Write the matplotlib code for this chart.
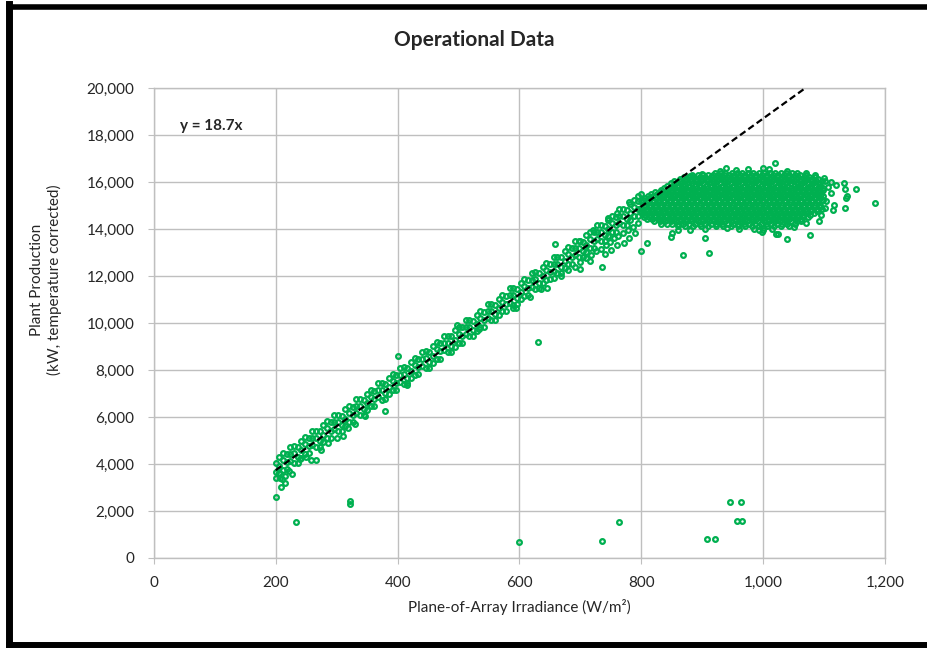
import matplotlib.pyplot as plt
from matplotlib.lines import Line2D
from matplotlib.ticker import FuncFormatter

plt.rcParams['font.family'] = ['Lato', 'DejaVu Sans']

# ---- data (irradiance W/m2, production kW) ----
slope = 18.7
line_x = [200, 1069.5]

# points along the linear part (200-800 W/m2)
band = [(200, 4040), (200, 3640), (206, 3902), (206, 4302), (212, 3764), (212, 4164), (218, 4427), (218, 4077),
        (224, 4139), (224, 4439), (230, 4451), (230, 4051), (236, 4713), (236, 4313), (242, 4575), (242, 4975),
        (248, 4438), (248, 4838), (254, 5100), (254, 4750), (260, 4812), (260, 5112), (266, 5124), (266, 4724),
        (272, 5386), (272, 4986), (278, 5249), (278, 5649), (284, 5111), (284, 5511), (290, 5773), (290, 5423),
        (296, 5485), (296, 5785), (302, 5797), (302, 5397), (308, 6060), (308, 5660), (314, 5922), (314, 6322),
        (320, 5784), (320, 6184), (326, 6446), (326, 6096), (332, 6158), (332, 6458), (338, 6471), (338, 6071),
        (344, 6733), (344, 6333), (350, 6595), (350, 6995), (356, 6457), (356, 6857), (362, 7119), (362, 6769),
        (368, 6832), (368, 7132), (374, 7144), (374, 6744), (380, 7406), (380, 7006), (386, 7268), (386, 7668),
        (392, 7130), (392, 7530), (398, 7793), (398, 7443), (404, 7505), (404, 7805), (410, 7817), (410, 7417),
        (416, 8079), (416, 7679), (422, 7941), (422, 8341), (428, 7804), (428, 8204), (434, 8466), (434, 8116),
        (440, 8178), (440, 8478), (446, 8490), (446, 8090), (452, 8752), (452, 8352), (458, 8615), (458, 9015),
        (464, 8477), (464, 8877), (470, 9139), (470, 8789), (476, 8851), (476, 9151), (482, 9163), (482, 8763),
        (488, 9426), (488, 9026), (494, 9288), (494, 9688), (500, 9150), (500, 9550), (506, 9812), (506, 9462),
        (512, 9524), (512, 9824), (518, 9837), (518, 9437), (524, 10099), (524, 9699), (530, 9961), (530, 10361),
        (536, 9823), (536, 10223), (542, 10485), (542, 10135), (548, 10198), (548, 10498), (554, 10510), (554, 10110),
        (560, 10772), (560, 10372), (566, 10634), (566, 11034), (572, 10496), (572, 10896), (578, 11159), (578, 10809),
        (584, 10871), (584, 11171), (590, 11183), (590, 10783), (596, 11445), (596, 11045), (602, 11307), (602, 11707),
        (608, 11170), (608, 11570), (614, 11832), (614, 11482), (620, 11544), (620, 11844), (626, 11856), (626, 11456),
        (632, 12118), (632, 11718), (638, 11981), (638, 12381), (644, 11843), (644, 12243), (650, 12505), (650, 12155),
        (656, 12217), (656, 12517), (662, 12529), (662, 12129), (668, 12792), (668, 12392), (674, 12654), (674, 13054),
        (680, 12516), (680, 12916), (686, 13178), (686, 12828), (692, 12890), (692, 13190), (698, 13203), (698, 12803),
        (704, 13465), (704, 13065), (710, 13327), (710, 13727), (716, 13189), (716, 13589), (722, 13851), (722, 13501),
        (728, 13564), (728, 13864), (734, 13876), (734, 13476), (740, 14138), (740, 13738), (746, 14000), (746, 14400),
        (752, 13862), (752, 14262), (758, 14525), (758, 14175), (764, 14237), (764, 14537), (770, 14549), (770, 14149),
        (776, 14811), (776, 14411), (782, 14673), (782, 15073), (788, 14536), (788, 14936), (794, 15198), (794, 14848),
        (800, 14910), (800, 15210)]

# third row of points along the band (outer edges)
band_outer = [(200, 3390), (206, 3602), (212, 4464), (218, 3777), (224, 4739), (230, 4751), (236, 4063),
              (242, 4275), (248, 5138), (254, 4450), (260, 5412), (266, 5424), (272, 4736), (278, 4949),
              (284, 5811), (290, 5123), (296, 6085), (302, 6097), (308, 5410), (314, 5622), (320, 6484),
              (326, 5796), (332, 6758), (338, 6771), (344, 6083), (350, 6295), (356, 7157), (362, 6469),
              (368, 7432), (374, 7444), (380, 6756), (386, 6968), (392, 7830), (398, 7143), (404, 8105),
              (410, 8117), (416, 7429), (422, 7641), (428, 8504), (434, 7816), (440, 8778), (446, 8790),
              (452, 8102), (458, 8315), (464, 9177), (470, 8489), (476, 9451), (482, 9463), (488, 8776),
              (494, 8988), (500, 9850), (506, 9162), (512, 10124), (518, 10137), (524, 9449), (530, 9661),
              (536, 10523), (542, 9835), (548, 10798), (554, 10810), (560, 10122), (566, 10334), (572, 11196),
              (578, 10509), (584, 11471), (590, 11483), (596, 10795), (602, 11007), (608, 11870), (614, 11182),
              (620, 12144), (626, 12156), (632, 11468), (638, 11681), (644, 12543), (650, 11855), (656, 12817),
              (662, 12829), (668, 12142), (674, 12354), (680, 13216), (686, 12528), (692, 13490), (698, 13503),
              (704, 12815), (710, 13027), (716, 13889), (722, 13201), (728, 14164), (734, 14176), (740, 13488),
              (746, 13700), (752, 14562), (758, 13875), (764, 14837), (770, 14849), (776, 14161), (782, 14373),
              (788, 15236), (794, 14548), (800, 15510)]

band_extra = [(205, 3600), (210, 3350), (215, 3500), (222, 3700), (240, 4200), (250, 4300), (258, 4150),
              (266, 4180), (275, 4600), (285, 4900), (300, 5100), (310, 5200), (318, 5550), (330, 5700),
              (347, 6040), (379, 6255), (400, 8595), (415, 7360), (497, 9914), (534, 9744), (590, 10650),
              (594, 10650), (617, 11090), (635, 11445), (645, 11500), (658, 13360), (656, 11900), (668, 12000),
              (680, 12250), (692, 12400), (700, 12600), (710, 12750), (718, 12900), (726, 13050), (734, 13150),
              (742, 13300), (748, 13450), (756, 13600), (762, 13700), (770, 13850), (778, 13950), (786, 14100),
              (794, 14250), (716, 12650), (740, 12950), (760, 13300), (780, 13600), (790, 13850), (750, 13100),
              (772, 13400), (700, 12300), (700, 13500), (720, 13950), (745, 14450), (760, 14700), (780, 15150),
              (795, 15400)]

# saturated cloud (800-1100 W/m2), one list of irradiance values per production level
blob_levels = [16390, 16300, 16210, 16120, 16030, 15940, 15850, 15760, 15670, 15580, 15490, 15400, 15310,
               15220, 15130, 15040, 14950, 14860, 14770, 14680, 14590, 14500, 14410, 14320, 14230, 14140]
blob_rows = [
    [921, 931, 938, 949, 957, 965, 976, 983, 993, 1001, 1011, 1019, 1030, 1037, 1047, 1055],
    [884, 893, 902, 909, 917, 926, 935, 944, 953, 962, 971, 980, 989, 998, 1007, 1016, 1025, 1034, 1043, 1052,
     1061, 1070],
    [870, 879, 887, 897, 905, 915, 923, 933, 941, 950, 960, 968, 978, 986, 995, 1005, 1013, 1022, 1031, 1041,
     1049, 1058, 1068, 1076, 1085],
    [864, 874, 882, 892, 900, 910, 919, 928, 937, 946, 955, 964, 973, 982, 991, 1000, 1009, 1018, 1027, 1036,
     1045, 1054, 1063, 1072, 1081, 1090],
    [853, 863, 871, 881, 890, 898, 908, 917, 925, 935, 943, 953, 961, 971, 980, 988, 998, 1007, 1015, 1025,
     1033, 1043, 1051, 1061, 1069, 1079, 1087, 1096],
    [848, 857, 866, 875, 884, 893, 902, 911, 920, 929, 938, 947, 956, 965, 974, 983, 992, 1001, 1010, 1019,
     1028, 1037, 1046, 1055, 1064, 1073, 1082, 1091],
    [843, 851, 861, 869, 878, 888, 896, 906, 914, 923, 933, 941, 950, 959, 969, 977, 986, 996, 1004, 1013,
     1023, 1031, 1040, 1050, 1058, 1067, 1077, 1085, 1094],
    [838, 847, 856, 865, 874, 883, 892, 901, 910, 919, 928, 937, 946, 955, 964, 973, 982, 991, 1000, 1009,
     1018, 1027, 1036, 1045, 1054, 1063, 1072, 1081, 1090, 1098],
    [832, 842, 850, 859, 868, 877, 886, 895, 904, 913, 922, 931, 940, 949, 958, 967, 976, 985, 994, 1003,
     1012, 1021, 1030, 1039, 1048, 1057, 1066, 1075, 1084, 1093],
    [822, 830, 839, 848, 857, 866, 875, 884, 893, 902, 911, 920, 929, 938, 947, 956, 965, 974, 983, 992,
     1001, 1010, 1019, 1028, 1037, 1046, 1055, 1064, 1073, 1082, 1091],
    [816, 826, 834, 844, 852, 862, 870, 880, 888, 898, 906, 916, 924, 934, 942, 952, 960, 970, 978, 988, 996,
     1006, 1014, 1024, 1032, 1042, 1050, 1060, 1068, 1078, 1086, 1095],
    [811, 820, 829, 838, 847, 856, 865, 874, 883, 892, 901, 910, 919, 928, 937, 946, 955, 964, 973, 982, 991,
     1000, 1009, 1018, 1027, 1036, 1045, 1054, 1063, 1072, 1081, 1090, 1098],
    [806, 814, 825, 833, 842, 851, 860, 869, 879, 887, 896, 905, 914, 923, 933, 941, 950, 959, 968, 977, 987,
     995, 1004, 1013, 1022, 1031, 1041, 1049, 1058, 1067, 1076, 1085, 1094],
    [803, 811, 820, 829, 838, 847, 856, 865, 874, 883, 892, 901, 910, 919, 928, 937, 946, 955, 964, 973, 982,
     991, 1000, 1009, 1018, 1027, 1036, 1045, 1054, 1063, 1072, 1081, 1090, 1099],
    [801, 810, 820, 828, 837, 847, 855, 864, 874, 882, 891, 901, 909, 918, 928, 936, 945, 955, 963, 972, 982,
     990, 999, 1009, 1017, 1026, 1036, 1044, 1053, 1063, 1071, 1080, 1090],
    [806, 815, 824, 833, 842, 851, 860, 869, 878, 887, 896, 905, 914, 923, 932, 941, 950, 959, 968, 977, 986,
     995, 1004, 1013, 1022, 1031, 1040, 1049, 1058, 1067, 1076, 1085, 1094],
    [805, 814, 822, 832, 841, 850, 859, 868, 878, 886, 895, 905, 913, 922, 932, 940, 949, 959, 967, 976, 986,
     994, 1003, 1013, 1021, 1030, 1040, 1048, 1057, 1067, 1075, 1084, 1094],
    [801, 809, 818, 827, 836, 845, 854, 863, 872, 881, 890, 899, 908, 917, 926, 935, 944, 953, 962, 971, 980,
     989, 998, 1007, 1016, 1025, 1034, 1043, 1052, 1061, 1070, 1079, 1088, 1097],
    [800, 810, 818, 827, 837, 845, 854, 864, 872, 881, 891, 899, 908, 918, 926, 935, 945, 953, 962, 972, 980,
     989, 999, 1007, 1016, 1026, 1034, 1043, 1053, 1061, 1070, 1079, 1088],
    [803, 811, 820, 829, 838, 847, 856, 865, 874, 883, 892, 901, 910, 919, 928, 937, 946, 955, 964, 973, 982,
     991, 1000, 1009, 1018, 1027, 1036, 1045, 1054, 1063, 1072, 1083],
    [806, 814, 823, 833, 841, 850, 860, 868, 877, 887, 895, 904, 914, 922, 931, 941, 949, 958, 968, 976, 985,
     995, 1003, 1012, 1022, 1030, 1039, 1049, 1057, 1066, 1077],
    [804, 813, 822, 831, 840, 849, 858, 867, 876, 885, 894, 903, 912, 921, 930, 939, 948, 957, 966, 975, 984,
     993, 1002, 1011, 1020, 1029, 1038, 1047, 1056, 1065, 1074],
    [809, 818, 827, 836, 846, 854, 863, 873, 881, 890, 900, 908, 917, 927, 935, 944, 954, 962, 971, 981, 989,
     998, 1008, 1016, 1025, 1035, 1043, 1052, 1063],
    [821, 830, 839, 848, 857, 866, 875, 884, 893, 902, 911, 920, 929, 938, 947, 956, 965, 974, 983, 992, 1001,
     1010, 1019, 1028, 1037, 1046, 1055, 1062],
    [833, 842, 851, 861, 869, 878, 888, 896, 905, 915, 923, 932, 942, 950, 959, 969, 977, 986, 996, 1004, 1013,
     1023, 1031, 1040, 1052],
    [860, 872, 885, 898, 910, 922, 934, 947, 958, 970, 982, 994, 1006, 1018, 1030, 1042],
]

blob_edges = [(880, 13950), (905, 14000), (940, 14050), (960, 13980), (985, 14020), (1000, 13950),
              (1015, 14000), (1050, 14080), (1070, 14250), (900, 16350), (930, 16480), (955, 16520),
              (975, 16560), (1000, 16600), (1010, 16560), (1040, 16450), (1070, 16380), (1085, 16300),
              (880, 16250), (1100, 16150), (1098, 15650), (1104, 15200), (1095, 14600)]

outliers = [(1153, 15687), (1184, 15090), (1135, 15687), (1133, 15940), (1112, 16010), (1119, 15870),
            (1102, 16050), (1106, 15800), (1111, 15516), (1136, 15300), (1137, 15400), (1134, 14905),
            (1115, 14800), (1116, 15000), (1102, 14905), (1092, 14340), (1077, 13744), (1040, 13573),
            (1021, 13775), (1025, 13775), (994, 13955), (998, 13870), (904, 13600), (911, 12965),
            (1019, 16794), (939, 16590), (868, 12890), (848, 13670), (851, 13840), (860, 13940),
            (810, 13390), (800, 13075), (736, 12370), (630, 9200), (200, 2608), (234, 1519), (322, 2300),
            (322, 2420), (209, 3034), (215, 3178), (226, 3561), (207, 3391), (600, 668), (735, 736),
            (764, 1519), (908, 796), (921, 796), (945, 2370), (964, 2370), (957, 1574), (966, 1574)]

points = band + band_outer + band_extra + blob_edges + outliers
xs = [p[0] for p in points]
ys = [p[1] for p in points]
for lvl, row in zip(blob_levels, blob_rows):
    xs += row
    ys += [lvl] * len(row)

green = '#00B050'
grid_c = '#BFBFBF'
text_c = '#262626'

fig = plt.figure(figsize=(9.28, 6.48), dpi=100)
ax = fig.add_axes([0.1659, 0.1389, 0.7877, 0.7253])

ax.plot(xs, ys, linestyle='none', marker='o', ms=3.4, mew=1.6, mfc='none', mec=green, zorder=2)
ax.plot(line_x, [slope * v for v in line_x], color='black', lw=1.6, dashes=(3, 1.6), zorder=3)

ax.set_xlim(0, 1200)
ax.set_ylim(0, 20000)
ax.set_xticks(range(0, 1201, 200))
ax.set_yticks(range(0, 20001, 2000))
fmt = FuncFormatter(lambda v, p: f"{int(v):,}")
ax.xaxis.set_major_formatter(fmt)
ax.yaxis.set_major_formatter(fmt)
ax.grid(True, color=grid_c, lw=1.0)
ax.set_axisbelow(True)
for s in ax.spines.values():
    s.set_color(grid_c)
    s.set_linewidth(1.0)
ax.tick_params(length=4, color=grid_c, labelsize=11, labelcolor=text_c)
ax.tick_params(axis='x', pad=9)
ax.tick_params(axis='y', pad=10)

ax.text(43, 18380, "y = 18.7x", fontsize=11, fontweight='bold', color=text_c, va='center', ha='left')

fig.text(474 / 928, 1 - 40 / 648, "Operational Data", fontsize=15, fontweight='bold', color=text_c,
         ha='center', va='center')
fig.text(519 / 928, 1 - 607 / 648, "Plane-of-Array Irradiance (W/m²)", fontsize=11, color=text_c,
         ha='center', va='center')
fig.text(46 / 928, 1 - 280 / 648, "Plant Production\n(kW, temperature corrected)", fontsize=11,
         color=text_c, rotation=90, ha='center', va='center', multialignment='center', linespacing=1.25)

# black frame around the chart
fig.add_artist(Line2D([0.0102, 1.01], [1 - 6.5 / 648] * 2, transform=fig.transFigure, color='black', lw=4))
fig.add_artist(Line2D([9.5 / 928] * 2, [3 / 648, 1 - 4 / 648], transform=fig.transFigure, color='black', lw=5))
fig.add_artist(Line2D([0.0102, 1.01], [3 / 648] * 2, transform=fig.transFigure, color='black', lw=4.3))

fig.savefig("out.png", dpi=100)
